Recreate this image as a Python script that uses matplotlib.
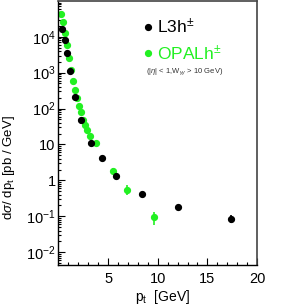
import matplotlib
matplotlib.use("Agg")
import matplotlib.pyplot as plt
import numpy as np
from matplotlib.ticker import FixedLocator, FixedFormatter, NullFormatter

plt.rcParams['font.family'] = ['Liberation Sans', 'DejaVu Sans']
plt.rcParams['mathtext.fontset'] = 'custom'
plt.rcParams['mathtext.rm'] = 'Liberation Sans'
plt.rcParams['mathtext.it'] = 'Liberation Sans:italic'
plt.rcParams['mathtext.sf'] = 'Liberation Sans'

# L3 charged hadrons
l3_pt = [0.39, 0.67, 0.87, 1.14, 1.67, 2.28, 3.32, 4.4, 5.77, 8.46, 12.0, 17.4]
l3_val = [17000, 8100, 3520, 1090, 215, 49.5, 11.1, 4.3, 1.35, 0.43, 0.185, 0.085]
l3_err = [0, 0, 0, 0, 0, 0, 0, 0.3, 0.1, 0.03, 0.02, 0.022]

# OPAL charged hadrons
opal_pt = [0.26, 0.49, 0.70, 0.90, 1.10, 1.30, 1.50, 1.70, 1.90, 2.11, 2.28, 2.51,
           2.71, 2.91, 3.19, 3.75, 5.47, 6.92, 9.67]
opal_val = [44400, 26100, 12900, 5730, 2560, 1190, 600, 330, 198, 119, 79, 48.5,
            35, 25.6, 16.7, 10.9, 1.85, 0.55, 0.095]
opal_err = [0, 0, 0, 0, 0, 0, 0, 0, 0, 0, 0, 0, 0, 0, 0, 0, 0.3, 0.17, 0.038]

ytick_vals = [1e-2, 1e-1, 1, 10, 1e2, 1e3, 1e4]
ytick_labels = ['$10^{-2}$', '$10^{-1}$', '1', '10', '$10^{2}$', '$10^{3}$', '$10^{4}$']
xtick_vals = [5, 10, 15, 20]

green = '#22f022'

fig = plt.figure(figsize=(2.91, 3.05), dpi=100)
ax = fig.add_axes([0.2007, 0.131, 0.6826, 0.866])

ax.errorbar(l3_pt, l3_val, yerr=l3_err, fmt='o', color='black', ms=4.2,
            elinewidth=1.2, capsize=0, zorder=3)
ax.errorbar(opal_pt, opal_val, yerr=opal_err, fmt='o', color=green, ms=4.2,
            elinewidth=1.2, capsize=0, zorder=2)

ax.set_yscale('log')
ax.set_xlim(0, 20)
ax.set_ylim(10**-2.36, 1e5)

ax.yaxis.set_major_locator(FixedLocator(ytick_vals))
ax.yaxis.set_major_formatter(FixedFormatter(ytick_labels))
minor_y = [m * 10.0**e for e in range(-3, 5) for m in range(2, 10)]
ax.yaxis.set_minor_locator(FixedLocator(minor_y))
ax.yaxis.set_minor_formatter(NullFormatter())

ax.xaxis.set_major_locator(FixedLocator(xtick_vals))
ax.set_xticklabels([str(v) for v in xtick_vals])
ax.xaxis.set_minor_locator(FixedLocator([i for i in range(1, 20) if i % 5 != 0]))

ax.tick_params(which='both', direction='in', top=False, right=False, labelsize=10.5,
               width=0.8)
ax.tick_params(which='major', length=5)
ax.tick_params(which='minor', length=2.5)
ax.tick_params(axis='x', pad=5)
ax.tick_params(axis='y', pad=2)

for s in ['left', 'bottom']:
    ax.spines[s].set_color('black')
    ax.spines[s].set_linewidth(1.0)
for s in ['top', 'right']:
    ax.spines[s].set_color('#444444')
    ax.spines[s].set_linewidth(1.2)

ax.set_ylabel(r'd$\sigma$/ dp$_{\mathrm{t}}$ [pb / GeV]', fontsize=9.5)
ax.yaxis.set_label_coords(-0.21, 0.37)
ax.set_xlabel(r'p$_{\mathrm{t}}$  [GeV]', fontsize=10)
ax.xaxis.set_label_coords(0.524, -0.088)

# legend
ax.plot([0.451], [0.902], 'o', color='black', ms=4.2, transform=ax.transAxes, clip_on=False)
ax.text(0.495, 0.902, r'L3h$^{\pm}$', transform=ax.transAxes, fontsize=12.5,
        va='center', ha='left', color='black')
ax.plot([0.451], [0.803], 'o', color=green, ms=4.2, transform=ax.transAxes, clip_on=False)
ax.text(0.495, 0.803, r'OPALh$^{\pm}$', transform=ax.transAxes, fontsize=12.5,
        va='center', ha='left', color=green)
ax.text(0.443, 0.731, r'(|$\eta$| < 1,W$_{\gamma\gamma}$ > 10 GeV)', transform=ax.transAxes,
        fontsize=5.5, va='center', ha='left', color='#333333')

fig.savefig('out.png', dpi=100)
